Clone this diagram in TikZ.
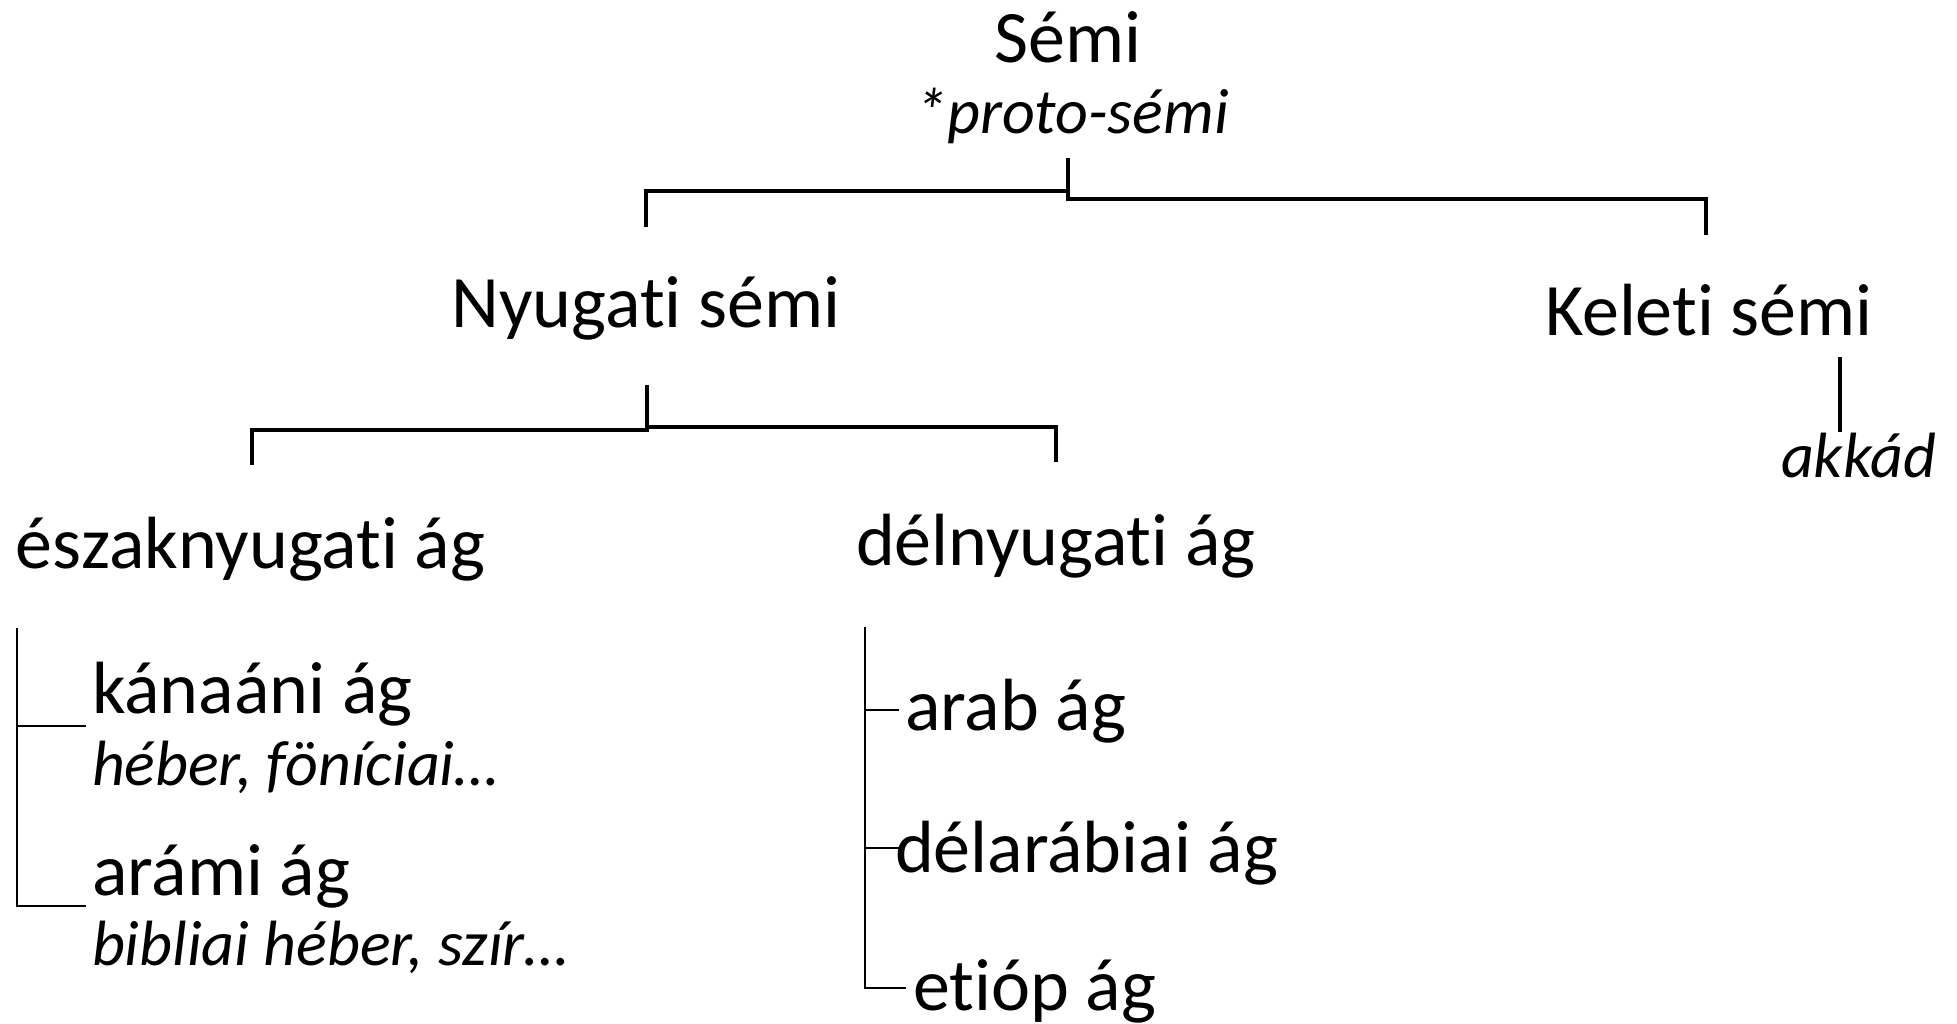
\documentclass[tikz,border=0pt]{standalone}
\usepackage{fontspec}
\setmainfont[Ligatures={NoCommon}]{Carlito}
\begin{document}
\begin{tikzpicture}[x=0.5pt,y=-0.5pt,
  main/.style={inner sep=0pt,outer sep=0pt,font=\fontsize{37}{40}\selectfont},
  sub/.style={inner sep=0pt,outer sep=0pt,font=\fontsize{32}{34}\selectfont\itshape},
  thick bar/.style={line width=2.4pt,line cap=rect},
  thin bar/.style={line width=1.3pt}]
\useasboundingbox (0,0) rectangle (1957,1023);
% texts
\node[main,anchor=base] (semi) at (1068,62) {Sémi};
\node[sub,anchor=base] (proto) at (1072,133) {*proto-sémi};
\node[main,anchor=base] (nyugati) at (646,327) {Nyugati sémi};
\node[main,anchor=base west] (keleti) at (1545,335) {Keleti sémi};
\node[sub,anchor=base west] (akkad) at (1781,477) {akkád};
\node[main,anchor=base west] (eszak) at (16,568) {északnyugati ág};
\node[main,anchor=base west] (delny) at (856,565) {délnyugati ág};
\node[main,anchor=base west] (kanaani) at (92,713) {kánaáni ág};
\node[sub,anchor=base west] (heber) at (92,785) {héber, föníciai…};
\node[main,anchor=base west] (arami) at (92,895) {arámi ág};
\node[sub,anchor=base west] (bibliai) at (92,965) {bibliai héber, szír…};
\node[main,anchor=base west] (arab) at (905,730) {arab ág};
\node[main,anchor=base west] (delarab) at (895,872) {délarábiai ág};
\node[main,anchor=base west] (etiop) at (913,1010) {etióp ág};
% bracket coordinates
\coordinate (s0) at (1068,160);
\coordinate (s1) at (1068,191);
\coordinate (s2) at (1068,199);
\coordinate (wl) at (646,191);
\coordinate (wld) at (646,225);
\coordinate (er) at (1706,199);
\coordinate (erd) at (1706,233);
\coordinate (k0) at (1840,357);
\coordinate (k1) at (1840,432);
\coordinate (n0) at (647,387);
\coordinate (n1) at (647,430);
\coordinate (n2) at (647,427);
\coordinate (nl) at (252,430);
\coordinate (nld) at (252,463);
\coordinate (nr) at (1056,427);
\coordinate (nrd) at (1056,460);
\coordinate (a0) at (17,628);
\coordinate (a1) at (17,726);
\coordinate (a2) at (17,906);
\coordinate (a1e) at (86,726);
\coordinate (a2e) at (86,906);
\coordinate (b0) at (865,627);
\coordinate (b1) at (865,710);
\coordinate (b2) at (865,848);
\coordinate (b3) at (865,988);
\coordinate (b1e) at (899,710);
\coordinate (b2e) at (899,848);
\coordinate (b3e) at (906,988);
% top bracket
\draw[thick bar] (s0) -- (s2);
\draw[thick bar] (wld) -- (wl) -- (s1);
\draw[thick bar] (s2) -- (er) -- (erd);
\draw[thick bar,line cap=butt] (k0) -- (k1);
% west bracket
\draw[thick bar] (n0) -- (n1);
\draw[thick bar] (nld) -- (nl) -- (n1);
\draw[thick bar] (n2) -- (nr) -- (nrd);
% lists
\draw[thin bar] (a0) -- (a2) -- (a2e);
\draw[thin bar] (a1) -- (a1e);
\draw[thin bar] (b0) -- (b3) -- (b3e);
\draw[thin bar] (b1) -- (b1e);
\draw[thin bar] (b2) -- (b2e);
\end{tikzpicture}
\end{document}
